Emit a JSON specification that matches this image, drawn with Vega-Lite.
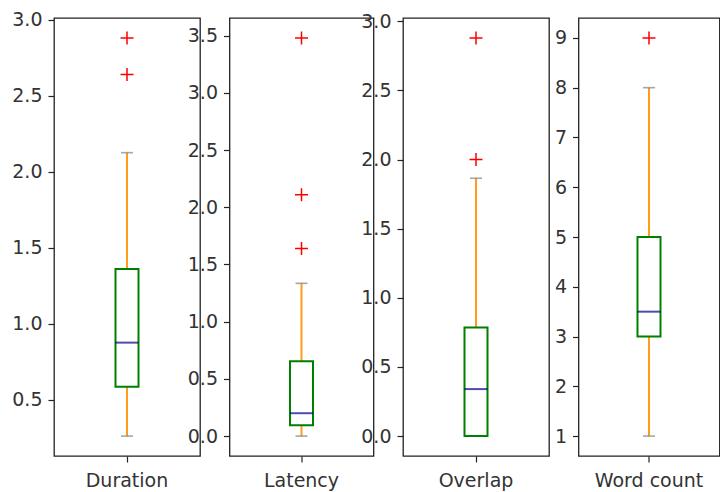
{
  "$schema": "https://vega.github.io/schema/vega-lite/v6.json",
  "padding": {"left": 11, "top": 10, "right": 0, "bottom": 0},
  "background": "white",
  "bounds": "flush",
  "spacing": 29.5,
  "datasets": {
    "stats": [
      {"var": "Duration", "min": 0.26, "q1": 0.585, "median": 0.875, "q3": 1.36, "max": 2.125},
      {"var": "Latency", "min": 0.0, "q1": 0.095, "median": 0.2, "q3": 0.655, "max": 1.335},
      {"var": "Overlap", "min": 0.0, "q1": 0.0, "median": 0.34, "q3": 0.785, "max": 1.865},
      {"var": "Word count", "min": 1, "q1": 3, "median": 3.5, "q3": 5, "max": 8}
    ],
    "outliers": [
      {"var": "Duration", "value": 2.64},
      {"var": "Duration", "value": 2.88},
      {"var": "Latency", "value": 1.64},
      {"var": "Latency", "value": 2.11},
      {"var": "Latency", "value": 3.48},
      {"var": "Overlap", "value": 2.0},
      {"var": "Overlap", "value": 2.88},
      {"var": "Word count", "value": 9}
    ]
  },
  "config": {
    "view": {"stroke": "#222", "strokeWidth": 1.3},
    "axis": {
      "grid": false, "domain": false, "title": null,
      "tickColor": "#222", "tickSize": 6, "tickWidth": 1.2,
      "labelFont": "DejaVu Sans", "labelFontSize": 19, "labelColor": "#333", "labelPadding": 6
    },
    "axisX": {"labelPadding": 9}
  },
  "hconcat": [
    {
      "width": 146, "height": 438,
      "layer": [
        {"data": {"name": "stats"}, "transform": [{"filter": "datum.var === 'Duration'"}], "mark": {"type": "rule", "color": "#ff9c1a", "strokeWidth": 2},
         "encoding": {"x": {"field": "var", "type": "nominal", "scale": {"paddingInner": 0, "paddingOuter": 0}, "axis": {"labelAngle": 0}},
                      "y": {"field": "min", "type": "quantitative", "scale": {"domain": [0.129, 3.011], "nice": false, "zero": false}, "axis": {"values": [0.5, 1, 1.5, 2, 2.5, 3], "format": ".1f"}},
                      "y2": {"field": "max"}}},
        {"data": {"name": "stats"}, "transform": [{"filter": "datum.var === 'Duration'"}], "mark": {"type": "tick", "color": "#808080", "size": 12, "thickness": 1.6},
         "encoding": {"x": {"field": "var", "type": "nominal"}, "y": {"field": "min", "type": "quantitative"}}},
        {"data": {"name": "stats"}, "transform": [{"filter": "datum.var === 'Duration'"}], "mark": {"type": "tick", "color": "#808080", "size": 12, "thickness": 1.6},
         "encoding": {"x": {"field": "var", "type": "nominal"}, "y": {"field": "max", "type": "quantitative"}}},
        {"data": {"name": "stats"}, "transform": [{"filter": "datum.var === 'Duration'"}], "mark": {"type": "bar", "fill": "white", "stroke": "green", "strokeWidth": 2, "size": 23},
         "encoding": {"x": {"field": "var", "type": "nominal"}, "y": {"field": "q1", "type": "quantitative"}, "y2": {"field": "q3"}}},
        {"data": {"name": "stats"}, "transform": [{"filter": "datum.var === 'Duration'"}], "mark": {"type": "tick", "color": "#00008b", "size": 23, "thickness": 2},
         "encoding": {"x": {"field": "var", "type": "nominal"}, "y": {"field": "median", "type": "quantitative"}}},
        {"data": {"name": "outliers"}, "transform": [{"filter": "datum.var === 'Duration'"}], "mark": {"type": "point", "shape": "M-1,0H1M0,-1V1", "filled": false, "stroke": "red", "strokeWidth": 1.5, "size": 169, "opacity": 1},
         "encoding": {"x": {"field": "var", "type": "nominal"}, "y": {"field": "value", "type": "quantitative"}}}
      ]
    },
    {
      "width": 144, "height": 438,
      "layer": [
        {"data": {"name": "stats"}, "transform": [{"filter": "datum.var === 'Latency'"}], "mark": {"type": "rule", "color": "#ff9c1a", "strokeWidth": 2},
         "encoding": {"x": {"field": "var", "type": "nominal", "scale": {"paddingInner": 0, "paddingOuter": 0}, "axis": {"labelAngle": 0}},
                      "y": {"field": "min", "type": "quantitative", "scale": {"domain": [-0.174, 3.654], "nice": false, "zero": false}, "axis": {"values": [0, 0.5, 1, 1.5, 2, 2.5, 3, 3.5], "format": ".1f"}},
                      "y2": {"field": "max"}}},
        {"data": {"name": "stats"}, "transform": [{"filter": "datum.var === 'Latency'"}], "mark": {"type": "tick", "color": "#808080", "size": 12, "thickness": 1.6},
         "encoding": {"x": {"field": "var", "type": "nominal"}, "y": {"field": "min", "type": "quantitative"}}},
        {"data": {"name": "stats"}, "transform": [{"filter": "datum.var === 'Latency'"}], "mark": {"type": "tick", "color": "#808080", "size": 12, "thickness": 1.6},
         "encoding": {"x": {"field": "var", "type": "nominal"}, "y": {"field": "max", "type": "quantitative"}}},
        {"data": {"name": "stats"}, "transform": [{"filter": "datum.var === 'Latency'"}], "mark": {"type": "bar", "fill": "white", "stroke": "green", "strokeWidth": 2, "size": 23},
         "encoding": {"x": {"field": "var", "type": "nominal"}, "y": {"field": "q1", "type": "quantitative"}, "y2": {"field": "q3"}}},
        {"data": {"name": "stats"}, "transform": [{"filter": "datum.var === 'Latency'"}], "mark": {"type": "tick", "color": "#00008b", "size": 23, "thickness": 2},
         "encoding": {"x": {"field": "var", "type": "nominal"}, "y": {"field": "median", "type": "quantitative"}}},
        {"data": {"name": "outliers"}, "transform": [{"filter": "datum.var === 'Latency'"}], "mark": {"type": "point", "shape": "M-1,0H1M0,-1V1", "filled": false, "stroke": "red", "strokeWidth": 1.5, "size": 169, "opacity": 1},
         "encoding": {"x": {"field": "var", "type": "nominal"}, "y": {"field": "value", "type": "quantitative"}}}
      ]
    },
    {
      "width": 146, "height": 438,
      "layer": [
        {"data": {"name": "stats"}, "transform": [{"filter": "datum.var === 'Overlap'"}], "mark": {"type": "rule", "color": "#ff9c1a", "strokeWidth": 2},
         "encoding": {"x": {"field": "var", "type": "nominal", "scale": {"paddingInner": 0, "paddingOuter": 0}, "axis": {"labelAngle": 0}},
                      "y": {"field": "min", "type": "quantitative", "scale": {"domain": [-0.144, 3.024], "nice": false, "zero": false}, "axis": {"values": [0, 0.5, 1, 1.5, 2, 2.5, 3], "format": ".1f"}},
                      "y2": {"field": "max"}}},
        {"data": {"name": "stats"}, "transform": [{"filter": "datum.var === 'Overlap'"}], "mark": {"type": "tick", "color": "#808080", "size": 12, "thickness": 1.6},
         "encoding": {"x": {"field": "var", "type": "nominal"}, "y": {"field": "min", "type": "quantitative"}}},
        {"data": {"name": "stats"}, "transform": [{"filter": "datum.var === 'Overlap'"}], "mark": {"type": "tick", "color": "#808080", "size": 12, "thickness": 1.6},
         "encoding": {"x": {"field": "var", "type": "nominal"}, "y": {"field": "max", "type": "quantitative"}}},
        {"data": {"name": "stats"}, "transform": [{"filter": "datum.var === 'Overlap'"}], "mark": {"type": "bar", "fill": "white", "stroke": "green", "strokeWidth": 2, "size": 23},
         "encoding": {"x": {"field": "var", "type": "nominal"}, "y": {"field": "q1", "type": "quantitative"}, "y2": {"field": "q3"}}},
        {"data": {"name": "stats"}, "transform": [{"filter": "datum.var === 'Overlap'"}], "mark": {"type": "tick", "color": "#00008b", "size": 23, "thickness": 2},
         "encoding": {"x": {"field": "var", "type": "nominal"}, "y": {"field": "median", "type": "quantitative"}}},
        {"data": {"name": "outliers"}, "transform": [{"filter": "datum.var === 'Overlap'"}], "mark": {"type": "point", "shape": "M-1,0H1M0,-1V1", "filled": false, "stroke": "red", "strokeWidth": 1.5, "size": 169, "opacity": 1},
         "encoding": {"x": {"field": "var", "type": "nominal"}, "y": {"field": "value", "type": "quantitative"}}}
      ]
    },
    {
      "width": 141, "height": 438,
      "layer": [
        {"data": {"name": "stats"}, "transform": [{"filter": "datum.var === 'Word count'"}], "mark": {"type": "rule", "color": "#ff9c1a", "strokeWidth": 2},
         "encoding": {"x": {"field": "var", "type": "nominal", "scale": {"paddingInner": 0, "paddingOuter": 0}, "axis": {"labelAngle": 0}},
                      "y": {"field": "min", "type": "quantitative", "scale": {"domain": [0.6, 9.4], "nice": false, "zero": false}, "axis": {"values": [1, 2, 3, 4, 5, 6, 7, 8, 9], "format": "d"}},
                      "y2": {"field": "max"}}},
        {"data": {"name": "stats"}, "transform": [{"filter": "datum.var === 'Word count'"}], "mark": {"type": "tick", "color": "#808080", "size": 12, "thickness": 1.6},
         "encoding": {"x": {"field": "var", "type": "nominal"}, "y": {"field": "min", "type": "quantitative"}}},
        {"data": {"name": "stats"}, "transform": [{"filter": "datum.var === 'Word count'"}], "mark": {"type": "tick", "color": "#808080", "size": 12, "thickness": 1.6},
         "encoding": {"x": {"field": "var", "type": "nominal"}, "y": {"field": "max", "type": "quantitative"}}},
        {"data": {"name": "stats"}, "transform": [{"filter": "datum.var === 'Word count'"}], "mark": {"type": "bar", "fill": "white", "stroke": "green", "strokeWidth": 2, "size": 23},
         "encoding": {"x": {"field": "var", "type": "nominal"}, "y": {"field": "q1", "type": "quantitative"}, "y2": {"field": "q3"}}},
        {"data": {"name": "stats"}, "transform": [{"filter": "datum.var === 'Word count'"}], "mark": {"type": "tick", "color": "#00008b", "size": 23, "thickness": 2},
         "encoding": {"x": {"field": "var", "type": "nominal"}, "y": {"field": "median", "type": "quantitative"}}},
        {"data": {"name": "outliers"}, "transform": [{"filter": "datum.var === 'Word count'"}], "mark": {"type": "point", "shape": "M-1,0H1M0,-1V1", "filled": false, "stroke": "red", "strokeWidth": 1.5, "size": 169, "opacity": 1},
         "encoding": {"x": {"field": "var", "type": "nominal"}, "y": {"field": "value", "type": "quantitative"}}}
      ]
    }
  ]
}
